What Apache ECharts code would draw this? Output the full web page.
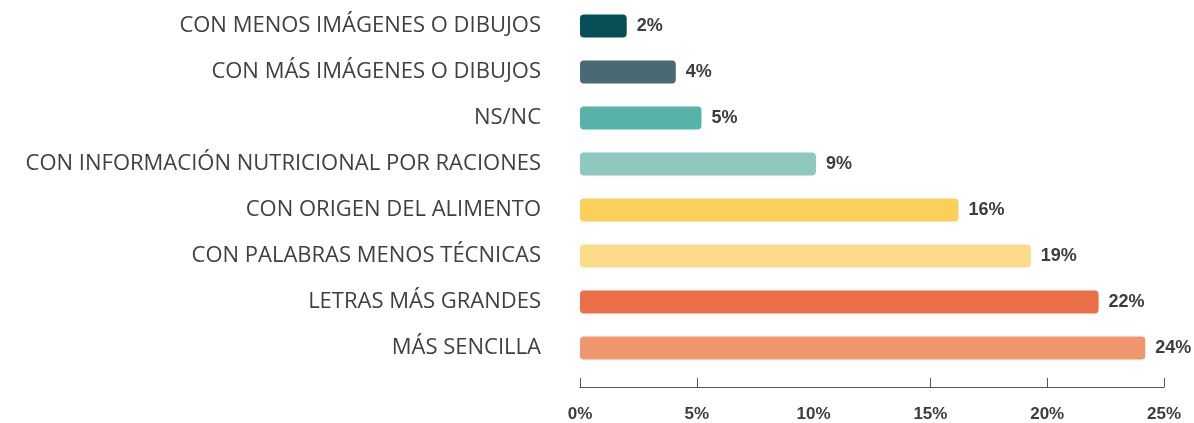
<!DOCTYPE html>
<html>
<head>
<meta charset="utf-8">
<script src="https://cdn.jsdelivr.net/npm/echarts@6/dist/echarts.min.js"></script>
<style>
  html, body { margin: 0; padding: 0; background: #fff; }
  #chart { width: 1194px; height: 423px; }
</style>
</head>
<body>
<div id="chart"></div>
<script>
// categories, top to bottom
var categories = [
    'CON MENOS IMÁGENES O DIBUJOS',
    'CON MÁS IMÁGENES O DIBUJOS',
    'NS/NC',
    'CON INFORMACIÓN NUTRICIONAL POR RACIONES',
    'CON ORIGEN DEL ALIMENTO',
    'CON PALABRAS MENOS TÉCNICAS',
    'LETRAS MÁS GRANDES',
    'MÁS SENCILLA'
];
// bar lengths as drawn
var values = [2.0, 4.1, 5.2, 10.1, 16.2, 19.3, 22.2, 24.2];
// printed labels
var valueLabels = ['2%', '4%', '5%', '9%', '16%', '19%', '22%', '24%'];
var barColors = ['#064f57', '#476a73', '#57b3a8', '#8fc8bf', '#fbd05a', '#fcdb8a', '#ea6e48', '#f0966e'];
var tickValues = [0, 5, 15, 20, 25];

function pageInit() {
    var myChart = echarts.init(document.getElementById('chart'));

    var data = values.map(function (v, i) {
        return { value: v, itemStyle: { color: barColors[i] } };
    });

    var option = {
        animation: false,
        grid: { left: 580, width: 584, top: 3, height: 371 },
        xAxis: {
            type: 'value',
            min: 0,
            max: 25,
            interval: 5,
            offset: 16,
            splitLine: { show: false },
            axisLine: { show: true, lineStyle: { color: '#555', width: 1 } },
            axisTick: {
                show: true,
                inside: true,
                length: 9,
                customValues: tickValues,
                lineStyle: { color: '#555' }
            },
            axisLabel: {
                margin: 19,
                formatter: '{value}%',
                color: '#3d3d3d',
                fontFamily: 'Liberation Sans',
                fontWeight: 'bold',
                fontSize: 17
            }
        },
        yAxis: {
            type: 'category',
            data: categories,
            inverse: true,
            axisLine: { show: false },
            axisTick: { show: false },
            axisLabel: {
                margin: 39,
                color: '#404040',
                fontFamily: 'Open Sans',
                fontSize: 22
            }
        },
        series: [{
            type: 'bar',
            data: data,
            barWidth: 23,
            itemStyle: { borderRadius: 4 },
            label: {
                show: true,
                position: 'right',
                distance: 10,
                formatter: function (p) { return valueLabels[p.dataIndex]; },
                color: '#3d3d3d',
                fontFamily: 'Liberation Sans',
                fontWeight: 'bold',
                fontSize: 18
            }
        }]
    };
    myChart.setOption(option);
}

window.onload = function () {
    pageInit();
};
</script>
</body>
</html>
